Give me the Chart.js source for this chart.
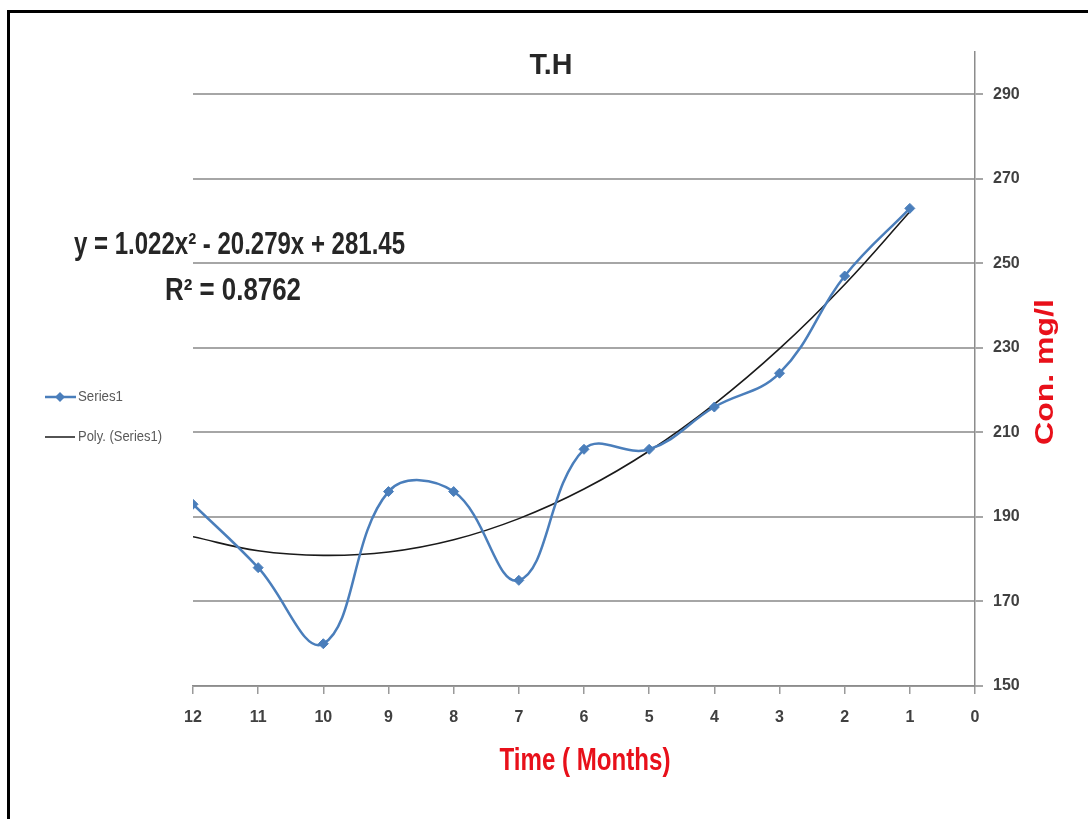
<!DOCTYPE html>
<html>
<head>
<meta charset="utf-8">
<title>T.H</title>
<script src="https://cdn.jsdelivr.net/npm/chart.js@4.4.1/dist/chart.umd.min.js"></script>
<style>
  html, body { margin: 0; padding: 0; background: #ffffff; }
  #wrap { position: relative; width: 1088px; height: 819px; overflow: hidden; }
  #frame { position: absolute; left: 7px; top: 10px; width: 1200px; height: 1000px;
           border-top: 3px solid #000; border-left: 3px solid #000; pointer-events: none; }
  canvas { position: absolute; left: 0; top: 0; }
</style>
</head>
<body>
<div id="wrap">
  <canvas id="chart" width="1088" height="819"></canvas>
  <div id="frame"></div>
</div>
<script>
// Monthly total hardness readings (months counted back from 12 to 1)
const months = [12, 11, 10, 9, 8, 7, 6, 5, 4, 3, 2, 1];
const hardness = [193, 178, 160, 196, 196, 175, 206, 206, 216, 224, 247, 263];
// Second-order polynomial trend evaluated at the same months
const trendValues = [185.3, 182.0, 180.9, 181.7, 184.6, 189.6, 196.6, 205.6, 216.7, 229.8, 245.0, 262.2];
// Axis ticks
const xTicks = [12, 11, 10, 9, 8, 7, 6, 5, 4, 3, 2, 1, 0];
const yTicks = [150, 170, 190, 210, 230, 250, 270, 290];
// Text
const chartTitle = 'T.H';
const xTitle = 'Time ( Months)';
const yTitle = 'Con. mg/l';
const eqLine1 = 'y = 1.022x\u00B2 - 20.279x + 281.45';
const eqLine2 = 'R\u00B2 = 0.8762';
const seriesNames = ['Series1', 'Poly. (Series1)'];

const SANS = "'Liberation Sans', Arial, sans-serif";
const BLUE = '#4a7ebb';
const RED = '#e8101a';

const seriesPoints = months.map((m, i) => ({ x: m, y: hardness[i] }));
const trendPoints = months.map((m, i) => ({ x: m, y: trendValues[i] }));

// Draw text squeezed horizontally to a given width (condensed look)
function condensedText(ctx, text, x, y, width, align) {
  const w = ctx.measureText(text).width;
  const sx = width / w;
  ctx.save();
  ctx.translate(x, y);
  ctx.scale(sx, 1);
  ctx.textAlign = align;
  ctx.fillText(text, 0, 0);
  ctx.restore();
}

// Titles, trend equation and legend drawn onto the canvas
const annotations = {
  id: 'annotations',
  afterDraw(chart) {
    const ctx = chart.ctx;
    const area = chart.chartArea;
    ctx.save();
    ctx.textBaseline = 'middle';

    // chart title
    ctx.fillStyle = '#262626';
    ctx.font = 'bold 30px ' + SANS;
    condensedText(ctx, chartTitle, 551, 66, 43, 'center');

    // trend equation
    ctx.font = 'bold 31px ' + SANS;
    condensedText(ctx, eqLine1, 74, 245, 331, 'left');
    condensedText(ctx, eqLine2, 165, 291, 136, 'left');

    // x axis title
    ctx.fillStyle = RED;
    ctx.font = 'bold 31px ' + SANS;
    condensedText(ctx, xTitle, (area.left + area.right) / 2 + 1, 761, 171, 'center');

    // y axis title, reading upward
    ctx.save();
    ctx.translate(1046, 372);
    ctx.rotate(-Math.PI / 2);
    ctx.font = 'bold 26px ' + SANS;
    condensedText(ctx, yTitle, 0, 0, 146, 'center');
    ctx.restore();

    // legend
    ctx.font = '14px ' + SANS;
    // Series1: blue line with diamond marker
    ctx.strokeStyle = BLUE;
    ctx.lineWidth = 2.5;
    ctx.beginPath(); ctx.moveTo(45, 397); ctx.lineTo(76, 397); ctx.stroke();
    ctx.fillStyle = BLUE;
    ctx.beginPath();
    ctx.moveTo(60, 392); ctx.lineTo(65, 397); ctx.lineTo(60, 402); ctx.lineTo(55, 397);
    ctx.closePath(); ctx.fill();
    ctx.fillStyle = '#595959';
    condensedText(ctx, seriesNames[0], 78, 397, 45, 'left');
    // Poly trend: thin black line
    ctx.strokeStyle = '#1a1a1a';
    ctx.lineWidth = 1.5;
    ctx.beginPath(); ctx.moveTo(45, 437); ctx.lineTo(75, 437); ctx.stroke();
    condensedText(ctx, seriesNames[1], 78, 437, 84, 'left');

    ctx.restore();
  }
};

new Chart(document.getElementById('chart'), {
  type: 'line',
  data: {
    datasets: [
      {
        label: seriesNames[1],
        data: trendPoints,
        borderColor: '#1a1a1a',
        borderWidth: 1.6,
        pointRadius: 0,
        tension: 0.4,
        fill: false,
        order: 1
      },
      {
        label: seriesNames[0],
        data: seriesPoints,
        borderColor: BLUE,
        backgroundColor: BLUE,
        borderWidth: 2.5,
        pointStyle: 'rectRot',
        pointRadius: 5,
        pointBorderWidth: 1,
        tension: 0.4,
        fill: false,
        order: 0
      }
    ]
  },
  options: {
    responsive: false,
    animation: false,
    events: [],
    layout: { padding: { left: 193, top: 52, right: 0, bottom: 0 } },
    plugins: {
      legend: { display: false },
      title: { display: false },
      tooltip: { enabled: false }
    },
    scales: {
      x: {
        type: 'linear',
        reverse: true,
        min: 0,
        max: 12,
        afterBuildTicks(scale) { scale.ticks = xTicks.map(v => ({ value: v })); },
        afterFit(scale) { scale.height = 133; },
        grid: {
          drawOnChartArea: false,
          drawTicks: true,
          tickLength: 8,
          color: '#9a9a9a',
          lineWidth: 1.5
        },
        border: { color: '#8c8c8c', width: 1.5 },
        ticks: {
          padding: 14,
          maxRotation: 0,
          color: '#404040',
          font: { family: SANS, size: 16, weight: 'bold' }
        }
      },
      y: {
        position: 'right',
        min: 150,
        max: 300,
        afterBuildTicks(scale) { scale.ticks = yTicks.map(v => ({ value: v })); },
        afterFit(scale) { scale.width = 113; },
        grid: {
          drawOnChartArea: true,
          drawTicks: true,
          tickLength: 8,
          color: '#a6a6a6',
          lineWidth: 2
        },
        border: { color: '#8c8c8c', width: 1.5 },
        ticks: {
          padding: 10,
          color: '#404040',
          font: { family: SANS, size: 16, weight: 'bold' }
        }
      }
    }
  },
  plugins: [annotations]
});
</script>
</body>
</html>
